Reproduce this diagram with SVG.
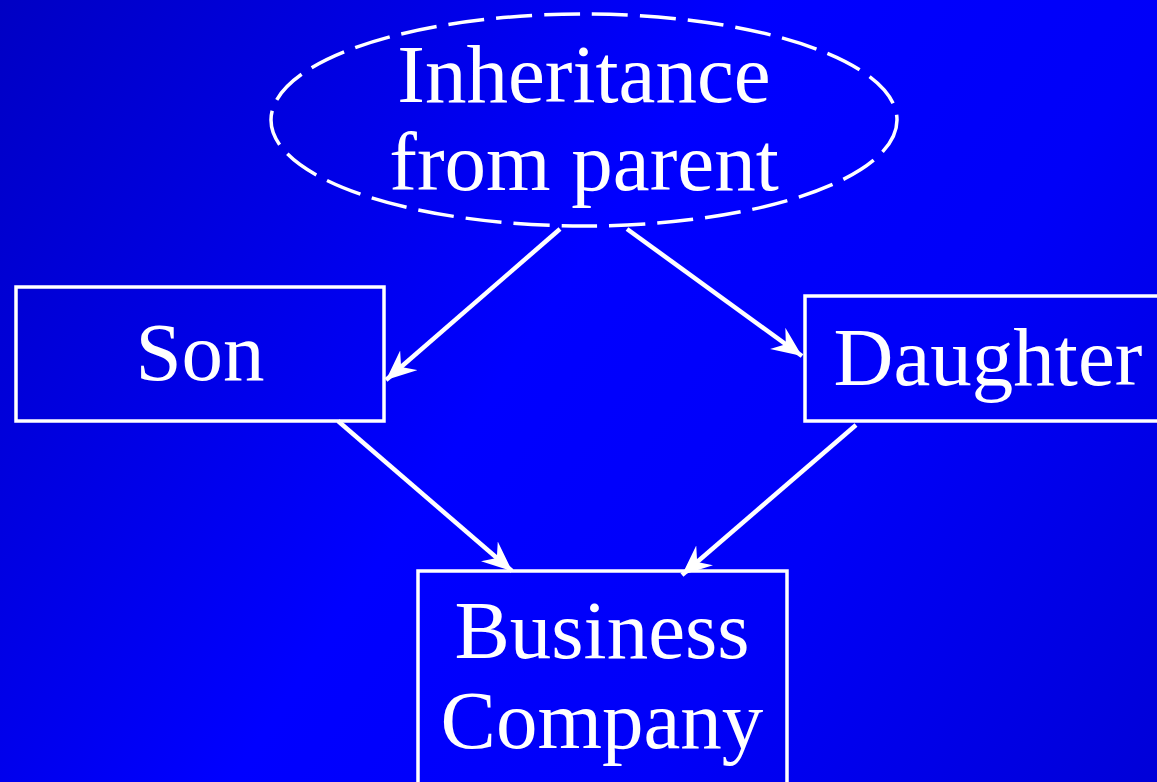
<svg xmlns="http://www.w3.org/2000/svg" width="1157" height="782" viewBox="0 0 1157 782">
  <defs>
    <linearGradient id="bg" x1="0" y1="0" x2="1157" y2="782" gradientUnits="userSpaceOnUse">
      <stop offset="0" stop-color="#0000c4"/>
      <stop offset="0.45" stop-color="#0000ff"/>
      <stop offset="0.7" stop-color="#0000f8"/>
      <stop offset="1" stop-color="#0000d8"/>
    </linearGradient>
    <marker id="arrow" viewBox="0 0 32 28" refX="30" refY="14" markerWidth="32" markerHeight="28" markerUnits="userSpaceOnUse" orient="auto">
      <path d="M0,1 L30,14 L0,27 L10,14 Z" fill="#ffffff"/>
    </marker>
    <style>
      .shape { fill: none; stroke: #ffffff; stroke-width: 3.5; }
      .dashed { stroke-dasharray: 36 12; }
      .label { font-family: "Liberation Serif", "DejaVu Serif", serif; font-size: 83px; fill: #ffffff; text-anchor: middle; }
      .edge { stroke: #ffffff; stroke-width: 4.5; fill: none; marker-end: url(#arrow); }
    </style>
  </defs>

  <rect x="0" y="0" width="1157" height="782" fill="url(#bg)"/>

  <g id="connectors">
    <line class="edge" x1="560" y1="229" x2="386" y2="380"/>
    <line class="edge" x1="627" y1="229" x2="802" y2="356"/>
    <line class="edge" x1="338" y1="421" x2="512" y2="571"/>
    <line class="edge" x1="856" y1="425" x2="682" y2="575"/>
  </g>

  <g id="inheritance">
    <ellipse class="shape dashed" cx="584" cy="120" rx="313" ry="106"/>
    <text class="label" x="584" y="102">Inheritance</text>
    <text class="label" x="584" y="190">from parent</text>
  </g>

  <g id="son">
    <rect class="shape" x="16" y="287" width="368" height="134"/>
    <text class="label" x="200" y="380">Son</text>
  </g>

  <g id="daughter">
    <rect class="shape" x="805" y="296" width="360" height="125"/>
    <text class="label" x="988" y="385">Daughter</text>
  </g>

  <g id="business">
    <rect class="shape" x="418" y="571" width="369" height="230"/>
    <text class="label" x="602" y="658">Business</text>
    <text class="label" x="602" y="748">Company</text>
  </g>
</svg>
